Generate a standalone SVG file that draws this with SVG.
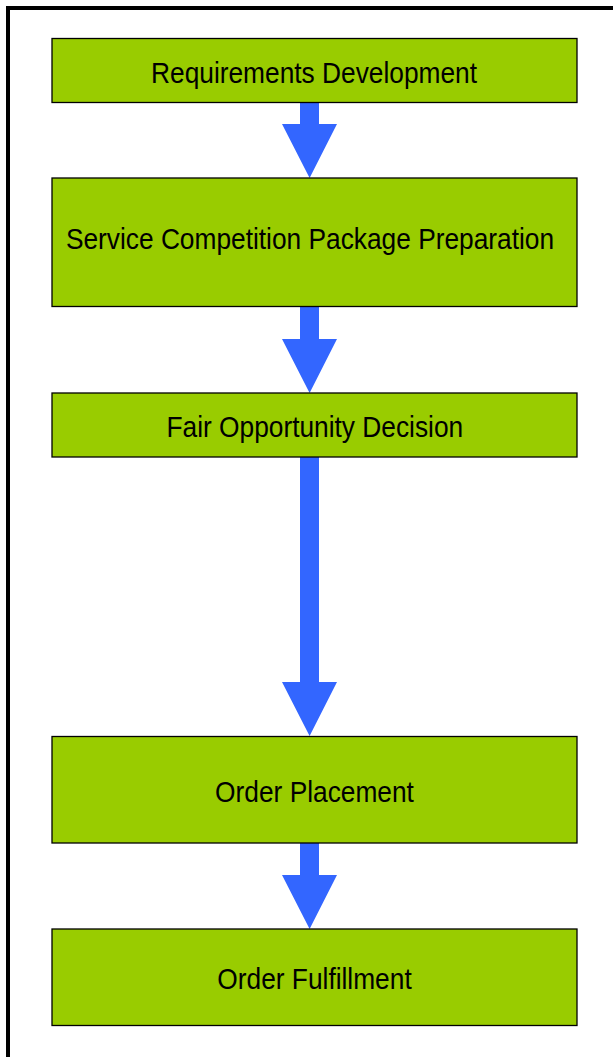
<svg xmlns="http://www.w3.org/2000/svg" width="613" height="1057" viewBox="0 0 613 1057">
<style>
.box{fill:#99CC00;stroke:#000;stroke-width:1.3}
.lbl{font-family:"Liberation Sans",Arial,sans-serif;font-size:30px;fill:#000;text-anchor:middle}
.arr{fill:#3366FF}
</style>
<rect x="0" y="0" width="613" height="1057" fill="#fff"/>
<rect x="8" y="8" width="700" height="1200" fill="none" stroke="#000" stroke-width="4"/>
<g id="connectors">
<polygon class="arr" points="300,102 319,102 319,124 337,124 309.6,178 282,124 300,124"/>
<polygon class="arr" points="300,307 319,307 319,339 337,339 309.6,393 282,339 300,339"/>
<polygon class="arr" points="300,457 319,457 319,682 337,682 309.6,736 282,682 300,682"/>
<polygon class="arr" points="300,843 319,843 319,875 337,875 309.6,929 282,875 300,875"/>
</g>
<g id="n1"><rect class="box" x="52" y="38.5" width="525" height="64"/><text class="lbl" transform="translate(314 82.7) scale(0.877 1)">Requirements Development</text></g>
<g id="n2"><rect class="box" x="52" y="178" width="525" height="128.5"/><text class="lbl" transform="translate(310 249.3) scale(0.877 1)">Service Competition Package Preparation</text></g>
<g id="n3"><rect class="box" x="52" y="393" width="525" height="64"/><text class="lbl" transform="translate(314.8 436.7) scale(0.877 1)">Fair Opportunity Decision</text></g>
<g id="n4"><rect class="box" x="52" y="736.5" width="525" height="106.5"/><text class="lbl" transform="translate(314.5 801.7) scale(0.877 1)">Order Placement</text></g>
<g id="n5"><rect class="box" x="52" y="929" width="525" height="96.5"/><text class="lbl" transform="translate(314.5 989.3) scale(0.877 1)">Order Fulfillment</text></g>
</svg>
